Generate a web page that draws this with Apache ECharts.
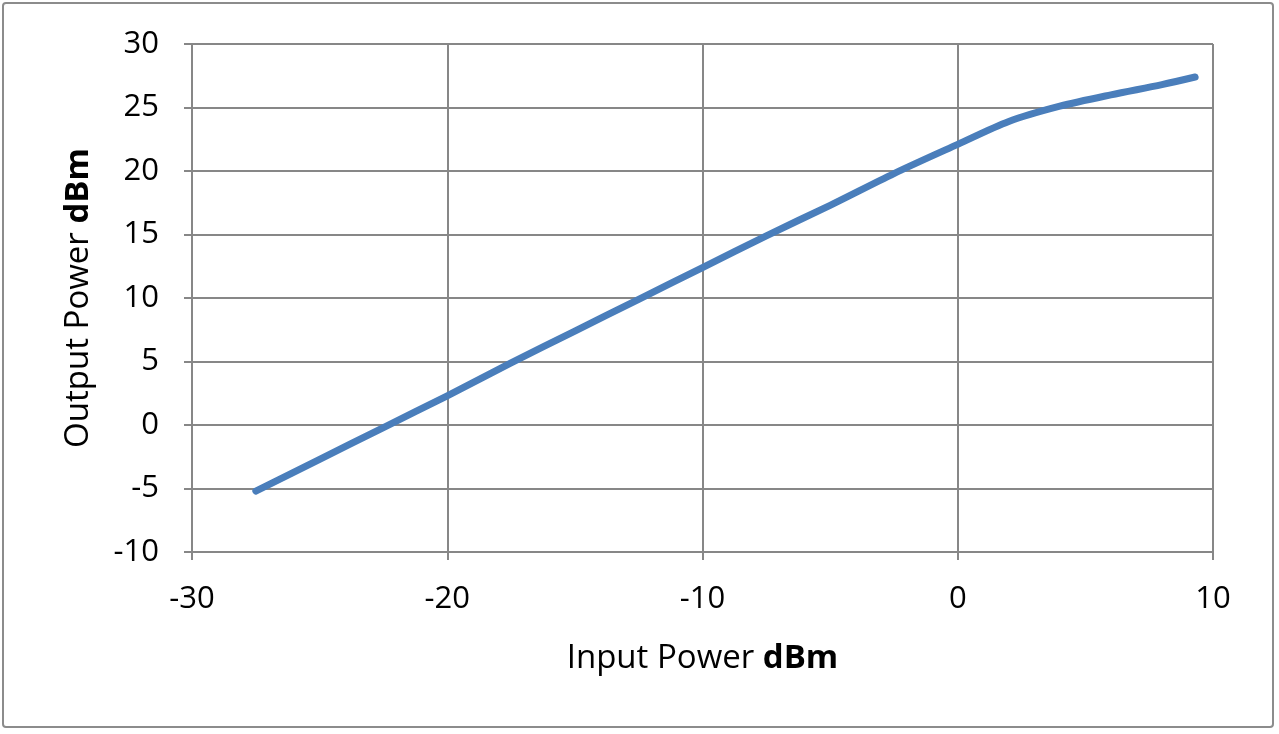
<!DOCTYPE html>
<html><head><meta charset="utf-8">
<script src="https://cdn.jsdelivr.net/npm/echarts@6/dist/echarts.min.js"></script>
<style>html,body{margin:0;padding:0;background:#fff}#c{width:1279px;height:734px}</style>
</head><body><div id="c"></div>
<script>
const inputPower = [-27.5, -25, -22.5, -20, -17.5, -15, -12.5, -10, -7.5, -5, -2.5, 0, 2, 4, 6, 8, 9.3];
const outputPower = [-5.2, -2.7, -0.2, 2.3, 4.9, 7.4, 9.9, 12.4, 14.9, 17.3, 19.8, 22.1, 23.9, 25.1, 26.0, 26.8, 27.4];
const xTitle = 'Input Power ';
const yTitle = 'Output Power ';
const unit = 'dBm';

const chart = echarts.init(document.getElementById('c'));
const gridColor = '#878787';
const font = '"Open Sans", sans-serif';
chart.setOption({
  animation: false,
  graphic: [{type:'rect', shape:{x:3,y:3,width:1270,height:724,r:3}, style:{fill:'none',stroke:'#8c8c8c',lineWidth:2}, z:-1}],
  grid: {left:192, top:44, right:66, bottom:182, show:false},
  xAxis: {
    type:'value', min:-30, max:10, interval:10,
    axisLine:{show:true, onZero:false, lineStyle:{color:gridColor,width:2}},
    axisTick:{show:true, length:8, lineStyle:{color:gridColor,width:2}},
    splitLine:{show:true, lineStyle:{color:gridColor,width:2}},
    axisLabel:{color:'#000', fontFamily:font, fontSize:31, margin:32},
    name: '{a|'+xTitle+'}{b|'+unit+'}', nameLocation:'middle', nameGap:90,
    nameTextStyle:{rich:{a:{fontFamily:font,fontSize:33,color:'#000'},b:{fontFamily:font,fontSize:33,fontWeight:'bold',color:'#000'}}}
  },
  yAxis: {
    type:'value', min:-10, max:30, interval:5,
    axisLine:{show:true, onZero:false, lineStyle:{color:gridColor,width:2}},
    axisTick:{show:true, length:8, lineStyle:{color:gridColor,width:2}},
    splitLine:{show:true, lineStyle:{color:gridColor,width:2}},
    axisLabel:{color:'#000', fontFamily:font, fontSize:31, margin:33},
    name: '{a|'+yTitle+'}{b|'+unit+'}', nameLocation:'middle', nameGap:97, nameRotate:90,
    nameTextStyle:{rich:{a:{fontFamily:font,fontSize:33,color:'#000'},b:{fontFamily:font,fontSize:33,fontWeight:'bold',color:'#000'}}}
  },
  series: [{
    type:'line', data: inputPower.map((x,i)=>[x, outputPower[i]]),
    showSymbol:false, smooth:0.3,
    lineStyle:{color:'#4a7ebb', width:7, cap:'round', join:'round'}
  }]
});
</script></body></html>
